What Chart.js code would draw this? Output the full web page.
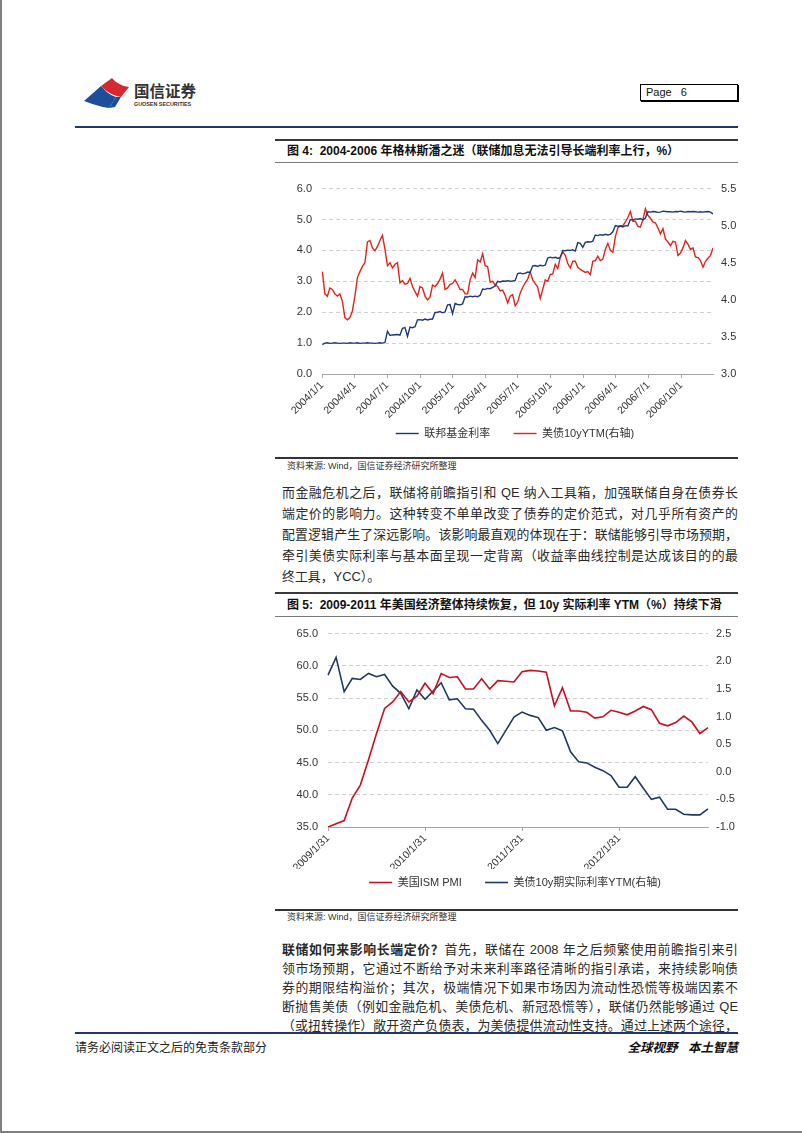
<!DOCTYPE html>
<html>
<head>
<meta charset="utf-8">
<script src="https://cdn.jsdelivr.net/npm/chart.js@4.4.0/dist/chart.umd.min.js"></script>
<style>
  body { margin: 0; width: 802px; height: 1133px; position: relative; background: #fff; overflow: hidden;
         font-family: "Liberation Sans", "Noto Sans CJK SC", sans-serif; color: #111; }
  .abs { position: absolute; }
  .rule { position: absolute; left: 275px; width: 463px; }
  .ttl { position: absolute; left: 287px; font-size: 12px; font-weight: bold; line-height: 16px; white-space: nowrap; }
  .src { position: absolute; left: 287px; font-size: 9px; color: #333; line-height: 12px; white-space: nowrap; }
  .para { position: absolute; left: 282px; width: 456px; font-size: 12.9px; color: #2a2a2a; }
  .para div { text-align: justify; text-align-last: justify; }
  .para div.last { text-align-last: left; }
</style>
</head>
<body>
<!-- page edge -->
<div class="abs" style="left:0;top:0;width:2px;height:1133px;background:#808080"></div>
<div class="abs" style="left:0;top:1131px;width:802px;height:2px;background:#808080"></div>

<!-- header -->
<svg class="abs" style="left:82px;top:76px" width="120" height="34" viewBox="0 0 120 34">
  <path d="M2,25 L19,10 C23,15 28,19 34,21 L27,32 C19,31 10,28 2,25 Z" fill="#1D4E9C"/>
  <path d="M19,10 L30,2 C34,7 40,10 47,11 L39,21 C33,20 25,17 19,10 Z" fill="#D7282F"/>
  <path d="M27,32 L34,21 C36,21 38,21 39,21 L33,31 Z" fill="#1D4E9C"/>
  <text x="52" y="21" font-size="15.5" font-weight="bold" fill="#333" font-family="Noto Sans CJK SC">国信证券</text>
  <text x="52" y="30" font-size="5.4" font-weight="bold" fill="#333" font-family="Liberation Sans">GUOSEN SECURITIES</text>
</svg>
<div class="abs" style="left:640px;top:84px;width:91px;height:15px;border:1px solid #000;box-shadow:1px 1px 0 #000;font-size:11px;line-height:15px;padding-left:5px;box-sizing:content-box">Page&nbsp;&nbsp;&nbsp;6</div>
<div class="abs" style="left:75px;top:126px;width:663px;height:2px;background:#1F3864"></div>

<!-- figure 4 -->
<div class="rule" style="top:139px;height:2px;background:#3a3a3a"></div>
<div class="ttl" style="top:143px">图 4:&nbsp;&nbsp;2004-2006 年格林斯潘之迷（联储加息无法引导长端利率上行，%）</div>
<div class="rule" style="top:162px;height:1px;background:#7a7a7a"></div>
<canvas id="c1" class="abs" style="left:280px;top:172px" width="470" height="277"></canvas>
<div class="rule" style="top:457px;height:1.5px;background:#333"></div>
<div class="src" style="top:460px">资料来源: Wind，国信证券经济研究所整理</div>

<div class="para" style="top:482px;line-height:21px">
  <div>而金融危机之后，联储将前瞻指引和 QE 纳入工具箱，加强联储自身在债券长</div>
  <div>端定价的影响力。这种转变不单单改变了债券的定价范式，对几乎所有资产的</div>
  <div>配置逻辑产生了深远影响。该影响最直观的体现在于：联储能够引导市场预期，</div>
  <div>牵引美债实际利率与基本面呈现一定背离（收益率曲线控制是达成该目的的最</div>
  <div class="last">终工具，YCC）。</div>
</div>

<!-- figure 5 -->
<div class="rule" style="top:592px;height:2px;background:#3a3a3a"></div>
<div class="ttl" style="top:597px">图 5:&nbsp;&nbsp;2009-2011 年美国经济整体持续恢复，但 10y 实际利率 YTM（%）持续下滑</div>
<div class="rule" style="top:616px;height:1px;background:#7a7a7a"></div>
<canvas id="c2" class="abs" style="left:280px;top:617px" width="470" height="285"></canvas>
<div class="rule" style="top:909px;height:1.5px;background:#333"></div>
<div class="src" style="top:911px">资料来源: Wind，国信证券经济研究所整理</div>

<div class="para" style="top:940px;line-height:19px">
  <div><b>联储如何来影响长端定价？</b>首先，联储在 2008 年之后频繁使用前瞻指引来引</div>
  <div>领市场预期，它通过不断给予对未来利率路径清晰的指引承诺，来持续影响债</div>
  <div>券的期限结构溢价；其次，极端情况下如果市场因为流动性恐慌等极端因素不</div>
  <div>断抛售美债（例如金融危机、美债危机、新冠恐慌等），联储仍然能够通过 QE</div>
  <div>（或扭转操作）敞开资产负债表，为美债提供流动性支持。通过上述两个途径，</div>
</div>

<!-- footer -->
<div class="abs" style="left:75px;top:1032px;width:663px;height:2px;background:#1F3864"></div>
<div class="abs" style="left:75px;top:1040px;font-size:12px;line-height:16px;color:#222">请务必阅读正文之后的免责条款部分</div>
<div class="abs" style="left:600px;width:138px;top:1040px;font-size:12.5px;line-height:16px;text-align:right;font-weight:bold;font-style:italic;color:#111">全球视野&nbsp;&nbsp;&nbsp;本土智慧</div>

<script>
// ---- figure 4: weekly readings, first week 2004/1/2 ----
const weekStart = "2004/1/2";
const quarterLabels = ["2004/1/1", "2004/4/1", "2004/7/1", "2004/10/1", "2005/1/1", "2005/4/1",
  "2005/7/1", "2005/10/1", "2006/1/1", "2006/4/1", "2006/7/1", "2006/10/1"];
const xEnd = "2006/12/29";

const fedFunds = [
  // 2004
  0.95, 1.00, 1.01, 0.99, 1.00,  1.01, 1.00, 0.99, 1.00,  1.00, 0.99, 1.01, 1.00,
  1.00, 1.01, 0.99, 1.00, 1.00,  1.01, 1.00, 1.00, 0.99,  1.00, 1.01, 1.00, 1.02,
  1.38, 1.25, 1.26, 1.27, 1.28,  1.26, 1.48, 1.50, 1.22,  1.52, 1.50, 1.53, 1.75,
  1.76, 1.74, 1.78, 1.75, 1.77,  1.78, 1.99, 2.00, 2.02,  1.98, 2.01, 2.24, 2.25, 1.95,
  // 2005
  2.28, 2.25, 2.24, 2.27,  2.50, 2.49, 2.52, 2.50,  2.52, 2.50, 2.55, 2.75,
  2.74, 2.77, 2.76, 2.80, 2.85,  3.00, 2.98, 3.01, 3.00,  3.02, 3.00, 3.01, 3.03,
  3.25, 3.27, 3.24, 3.26, 3.30,  3.29, 3.50, 3.51, 3.48,  3.52, 3.50, 3.52, 3.75, 3.78,
  3.76, 3.78, 3.74, 3.77,  4.00, 3.99, 4.01, 4.00,  4.02, 3.98, 4.25, 4.23, 4.10,
  // 2006
  4.26, 4.28, 4.27, 4.30,  4.50, 4.48, 4.51, 4.49,  4.52, 4.50, 4.52, 4.60, 4.80,
  4.78, 4.79, 4.76, 4.80,  4.79, 5.00, 4.98, 5.02,  5.01, 5.03, 4.99, 5.05, 5.25,
  5.24, 5.26, 5.25, 5.23,  5.24, 5.27, 5.26, 5.25,  5.25, 5.24, 5.26, 5.25, 5.27,
  5.25, 5.24, 5.26, 5.25,  5.26, 5.25, 5.24, 5.25,  5.24, 5.25, 5.26, 5.24, 5.18
];

const ust10y = [
  // 2004
  4.38, 4.08, 4.05, 4.16, 4.14,  4.08, 4.05, 4.08, 3.98,  3.76, 3.73, 3.76, 3.85,
  4.05, 4.30, 4.38, 4.45, 4.50,  4.78, 4.80, 4.70, 4.66,  4.72, 4.80, 4.87, 4.68,
  4.46, 4.50, 4.43, 4.48, 4.50,  4.23, 4.26, 4.21, 4.22,  4.29, 4.18, 4.11, 4.05,
  4.18, 4.16, 4.05, 4.00, 4.04,  4.20, 4.18, 4.22, 4.28,  4.36, 4.14, 4.16, 4.21, 4.22,
  // 2005
  4.27, 4.21, 4.14, 4.14,  4.08, 4.08, 4.27, 4.36,  4.30, 4.54, 4.51, 4.62,
  4.46, 4.45, 4.24, 4.25, 4.20,  4.18, 4.12, 4.13, 4.06,  3.96, 4.05, 4.07, 3.92,
  3.97, 4.09, 4.17, 4.23, 4.28,  4.38, 4.27, 4.22, 4.17,  4.02, 4.14, 4.27, 4.25, 4.34,
  4.35, 4.48, 4.42, 4.57,  4.65, 4.60, 4.49, 4.43,  4.52, 4.52, 4.44, 4.41, 4.39,
  // 2006
  4.37, 4.38, 4.34, 4.52,  4.53, 4.59, 4.53, 4.55,  4.68, 4.76, 4.67, 4.64, 4.85,
  4.97, 5.00, 5.00, 5.05,  5.11, 5.19, 5.06, 5.06,  4.99, 4.98, 5.08, 5.23, 5.14,
  5.10, 5.05, 5.04, 4.97,  4.89, 4.96, 4.82, 4.78,  4.73, 4.79, 4.78, 4.60, 4.63,
  4.70, 4.80, 4.75, 4.68,  4.70, 4.58, 4.57, 4.53,  4.44, 4.52, 4.56, 4.60, 4.70
];

// ---- figure 5: monthly readings 2009/1 - 2012/12 ----
const firstMonth = [2009, 1];
const ismPmi = [
  35.0, 35.5, 36.0, 39.5, 41.5, 45.4, 49.5, 53.4, 54.4, 56.0, 54.4, 55.3,
  57.3, 55.7, 58.8, 58.2, 58.3, 56.4, 56.4, 58.0, 56.4, 57.7, 57.6, 57.5,
  59.1, 59.3, 59.2, 59.0, 53.8, 56.6, 53.0, 53.0, 52.8, 51.9, 52.1, 53.1,
  52.8, 52.4, 53.0, 53.7, 53.2, 51.1, 50.7, 51.2, 52.2, 51.3, 49.5, 50.4
];
const realYield = [
  1.75, 2.07, 1.45, 1.69, 1.67, 1.78, 1.72, 1.76, 1.55, 1.42, 1.14, 1.48,
  1.31, 1.46, 1.61, 1.30, 1.32, 1.14, 1.13, 0.93, 0.75, 0.51, 0.75, 0.99,
  1.08, 1.02, 0.98, 0.75, 0.80, 0.74, 0.36, 0.18, 0.16, 0.08, 0.02, -0.07,
  -0.28, -0.28, -0.09, -0.30, -0.50, -0.46, -0.68, -0.68, -0.77, -0.78, -0.78, -0.67
];

Chart.defaults.font.family = "'Liberation Sans', 'Noto Sans CJK SC', sans-serif";
Chart.defaults.color = "#333";
Chart.defaults.animation = false;

const dayNum = (s) => {
  const [y, m, d] = s.split("/").map(Number);
  return (Date.UTC(y, m - 1, d) - Date.UTC(2004, 0, 1)) / 864e5;
};
const fmt1 = (v) => Number(v).toFixed(1);
const axisGray = "#A6A6A6";

// month-end labels for figure 5
const monthLabels = ismPmi.map((_, i) => {
  const y = firstMonth[0] + Math.floor((firstMonth[1] - 1 + i) / 12);
  const m = ((firstMonth[1] - 1 + i) % 12) + 1;
  const last = new Date(Date.UTC(y, m, 0)).getUTCDate();
  return y + "/" + m + "/" + last;
});

// legend with a short line sample, wider gap after the first item
function legendOpts() {
  return {
    position: "bottom",
    labels: {
      usePointStyle: true, pointStyle: "line", pointStyleWidth: 23,
      font: { size: 11 }, color: "#333", padding: 8,
      generateLabels: (chart) =>
        Chart.defaults.plugins.legend.labels.generateLabels(chart).map((it, i) =>
          ({ ...it, text: i === 0 ? it.text + "     " : it.text }))
    }
  };
}

const w0 = dayNum(weekStart);
new Chart(document.getElementById("c1"), {
  type: "line",
  data: {
    datasets: [
      { label: "联邦基金利率", data: fedFunds.map((v, i) => ({ x: w0 + 7 * i, y: v })),
        borderColor: "#1F3A7A", backgroundColor: "#1F3A7A", borderWidth: 1.4, pointRadius: 0, yAxisID: "y" },
      { label: "美债10yYTM(右轴)", data: ust10y.map((v, i) => ({ x: w0 + 7 * i, y: v })),
        borderColor: "#E2231A", backgroundColor: "#E2231A", borderWidth: 1.4, pointRadius: 0, yAxisID: "y1" }
    ]
  },
  options: {
    responsive: false,
    layout: { padding: { top: 9, bottom: 0, left: 0, right: 0 } },
    plugins: { legend: legendOpts(), tooltip: { enabled: false } },
    scales: {
      x: {
        type: "linear", min: 0, max: dayNum(xEnd),
        afterBuildTicks: (s) => { s.ticks = quarterLabels.map((q) => ({ value: dayNum(q) })); },
        afterFit: (s) => { s.height = 46; },
        ticks: { autoSkip: false, minRotation: 45, maxRotation: 45, padding: 1, font: { size: 10.5 },
                 callback: (v, i) => quarterLabels[i] },
        grid: { drawOnChartArea: false, tickLength: 4, color: axisGray },
        border: { color: axisGray }
      },
      y: {
        position: "left", min: 0, max: 6,
        afterFit: (s) => { s.width = 42; },
        ticks: { stepSize: 1, callback: fmt1, padding: 10, font: { size: 11 } },
        grid: { color: "#D0D0D0", drawTicks: false },
        border: { display: false, dash: [4, 3] }
      },
      y1: {
        position: "right", min: 3, max: 5.5,
        afterFit: (s) => { s.width = 37; },
        ticks: { stepSize: 0.5, callback: fmt1, padding: 0, font: { size: 11 } },
        grid: { display: false },
        border: { display: false }
      }
    }
  }
});

new Chart(document.getElementById("c2"), {
  type: "line",
  data: {
    labels: monthLabels,
    datasets: [
      { label: "美国ISM PMI", data: ismPmi, borderColor: "#C4121F", backgroundColor: "#C4121F",
        borderWidth: 1.6, pointRadius: 0, yAxisID: "y" },
      { label: "美债10y期实际利率YTM(右轴)", data: realYield, borderColor: "#1F3864", backgroundColor: "#1F3864",
        borderWidth: 1.6, pointRadius: 0, yAxisID: "y1" }
    ]
  },
  options: {
    responsive: false,
    layout: { padding: { top: 6, bottom: 4, left: 0, right: 0 } },
    plugins: { legend: legendOpts(), tooltip: { enabled: false } },
    scales: {
      x: {
        offset: false,
        afterBuildTicks: (s) => { s.ticks = s.ticks.filter((t) => t.value % 12 === 0); },
        afterFit: (s) => { s.height = 42; },
        ticks: { autoSkip: false, minRotation: 45, maxRotation: 45, padding: 1, font: { size: 10.5 },
                 callback: function (v) { return this.getLabelForValue(v); } },
        grid: { drawOnChartArea: false, tickLength: 4, color: axisGray },
        border: { color: axisGray }
      },
      y: {
        position: "left", min: 35, max: 65,
        afterFit: (s) => { s.width = 48; },
        ticks: { stepSize: 5, callback: fmt1, padding: 10, font: { size: 11 } },
        grid: { color: "#D0D0D0", drawTicks: false },
        border: { display: false, dash: [4, 3] }
      },
      y1: {
        position: "right", min: -1, max: 2.5,
        afterFit: (s) => { s.width = 42; },
        ticks: { stepSize: 0.5, callback: fmt1, padding: 0, font: { size: 11 } },
        grid: { display: false },
        border: { display: false }
      }
    }
  }
});
</script>
</body>
</html>
